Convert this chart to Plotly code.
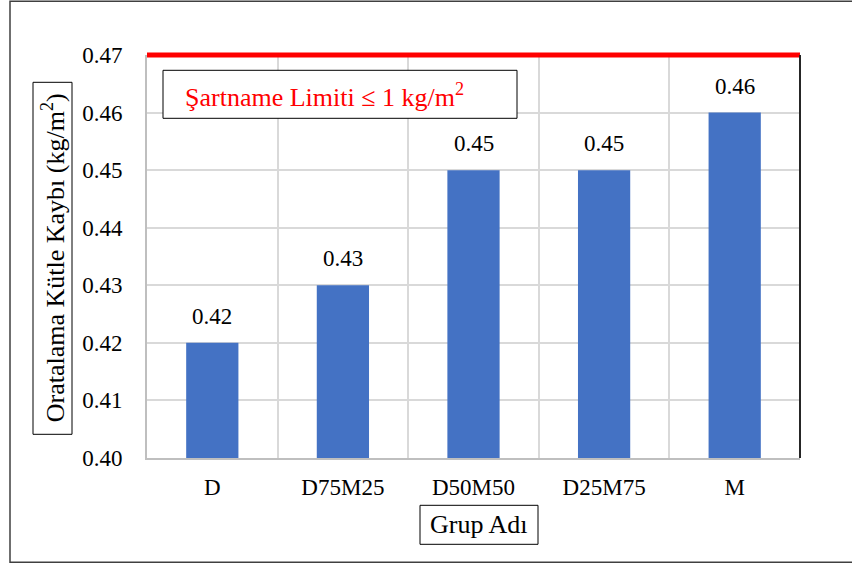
import plotly.graph_objects as go

# Average mass loss per mix group
groups = ["D", "D75M25", "D50M50", "D25M75", "M"]
mass_loss = [0.42, 0.43, 0.45, 0.45, 0.46]
limit_label = "Şartname Limiti ≤ 1 kg/m<sup>2</sup>"
y_ticks = [0.40, 0.41, 0.42, 0.43, 0.44, 0.45, 0.46, 0.47]
y_range = [0.40, 0.47]

FONT = "Liberation Serif"
BAR = "#4472C4"
GRID = "#D9D9D9"

# Plot area in pixels (used to place the boxed titles in paper units)
L, R, T, B = 147, 800, 54.7, 457.7
W, H = R - L, B - T


def px(x):
    return (x - L) / W


def py(y):
    return (B - y) / H


def y_to_paper(v):
    return (v - y_range[0]) / (y_range[1] - y_range[0])


fig = go.Figure()
fig.add_trace(go.Bar(
    x=groups, y=mass_loss, width=0.4,
    marker=dict(color=BAR, line=dict(width=0)),
    showlegend=False, hoverinfo="x+y",
))

# value labels above the bars
for g, v in zip(groups, mass_loss):
    fig.add_annotation(x=g, y=v, text=f"{v:.2f}", showarrow=False,
                       xanchor="center", yanchor="bottom", yshift=12,
                       font=dict(family=FONT, size=23, color="black"))

limit_y = y_to_paper(y_range[1])
shapes = [
    # specification limit line along the top of the value axis
    dict(type="line", xref="paper", yref="paper", x0=0, x1=1,
         y0=limit_y, y1=limit_y, line=dict(color="#FF0000", width=5)),
    # dark right edge of the plot area
    dict(type="line", xref="paper", yref="paper", x0=1, x1=1, y0=0, y1=1,
         line=dict(color="#262626", width=2)),
    # limit caption box
    dict(type="rect", xref="paper", yref="paper",
         x0=px(163), x1=px(517), y0=py(118), y1=py(70),
         line=dict(color="black", width=1), fillcolor="white"),
    # y-axis title box
    dict(type="rect", xref="paper", yref="paper",
         x0=px(33), x1=px(72), y0=py(434), y1=py(82),
         line=dict(color="black", width=1)),
    # x-axis title box
    dict(type="rect", xref="paper", yref="paper",
         x0=px(420), x1=px(538), y0=py(544), y1=py(505),
         line=dict(color="black", width=1)),
    # outer chart frame
    dict(type="rect", xref="paper", yref="paper",
         x0=px(10), x1=px(880), y0=py(562), y1=py(1),
         line=dict(color="#404040", width=1.5)),
]

fig.add_annotation(xref="paper", yref="paper", x=px(183), y=py(95),
                   xanchor="left", yanchor="middle", text=limit_label,
                   showarrow=False,
                   font=dict(family=FONT, size=26, color="#FF0000"))
fig.add_annotation(xref="paper", yref="paper", x=px(53), y=py(258),
                   xanchor="center", yanchor="middle",
                   text="Oratalama Kütle Kaybı (kg/m<sup>2</sup>)",
                   textangle=-90, showarrow=False,
                   font=dict(family=FONT, size=26, color="black"))
fig.add_annotation(xref="paper", yref="paper", x=px(479), y=py(524),
                   xanchor="center", yanchor="middle",
                   text="Grup Adı", showarrow=False,
                   font=dict(family=FONT, size=26, color="black"))

fig.update_layout(
    width=852, height=563,
    margin=dict(l=L, r=852 - R, t=T, b=563 - B),
    paper_bgcolor="white", plot_bgcolor="white",
    font=dict(family=FONT, size=23, color="black"),
    shapes=shapes,
    xaxis=dict(
        type="category", range=[-0.5, 4.5], tickson="boundaries",
        showgrid=True, gridcolor=GRID, gridwidth=2,
        showline=True, linecolor="#BFBFBF", linewidth=2,
        ticks="", ticklabelstandoff=7,
        tickfont=dict(family=FONT, size=23, color="black"),
        fixedrange=True,
    ),
    yaxis=dict(
        range=y_range, tickvals=y_ticks,
        ticktext=[f"{t:.2f}" for t in y_ticks],
        showgrid=True, gridcolor=GRID, gridwidth=2,
        showline=True, linecolor="#BFBFBF", linewidth=2,
        zeroline=False, ticks="", ticklabelstandoff=18,
        tickfont=dict(family=FONT, size=23, color="black"),
        fixedrange=True,
    ),
    bargap=0.6,
)

fig.write_html("out.html")
